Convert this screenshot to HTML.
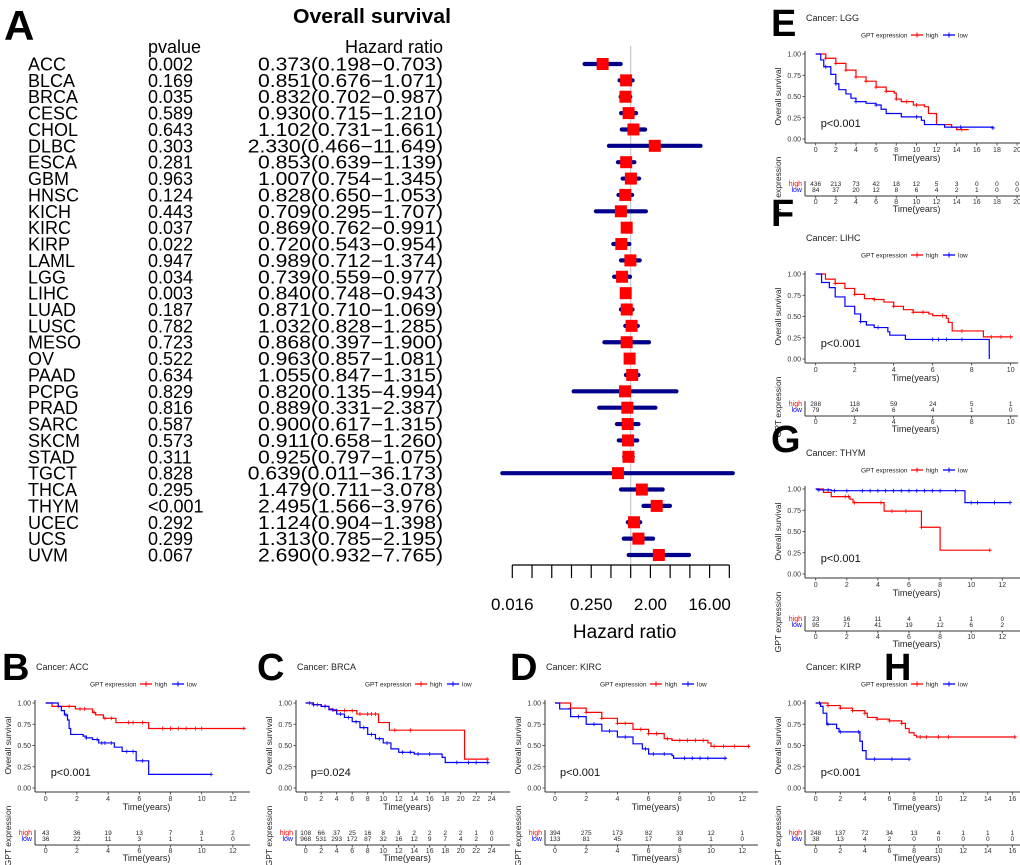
<!DOCTYPE html>
<html><head><meta charset="utf-8"><style>
html,body{margin:0;padding:0;background:#fff;}
svg{display:block;font-family:"Liberation Sans",Arial,sans-serif;}
</style></head><body>
<svg id="fig" width="1020" height="865" viewBox="0 0 1020 865" xmlns="http://www.w3.org/2000/svg">
<rect width="1020" height="865" fill="#fff"/>
<text x="4" y="40" font-size="42" font-weight="bold">A</text>
<text x="293" y="23" font-size="20" font-weight="bold" textLength="158" lengthAdjust="spacingAndGlyphs">Overall survival</text>
<text x="148" y="53" font-size="18">pvalue</text>
<text x="443" y="53" font-size="18" text-anchor="end">Hazard ratio</text>
<g id="forest"></g>
<g id="km"></g>
</svg>
<script>
// ---------- Forest plot data ----------
const fCancers=["ACC","BLCA","BRCA","CESC","CHOL","DLBC","ESCA","GBM","HNSC","KICH","KIRC","KIRP","LAML","LGG","LIHC","LUAD","LUSC","MESO","OV","PAAD","PCPG","PRAD","SARC","SKCM","STAD","TGCT","THCA","THYM","UCEC","UCS","UVM"];
const fPvalues=["0.002","0.169","0.035","0.589","0.643","0.303","0.281","0.963","0.124","0.443","0.037","0.022","0.947","0.034","0.003","0.187","0.782","0.723","0.522","0.634","0.829","0.816","0.587","0.573","0.311","0.828","0.295","<0.001","0.292","0.299","0.067"];
const fHR=[0.373,0.851,0.832,0.930,1.102,2.330,0.853,1.007,0.828,0.709,0.869,0.720,0.989,0.739,0.840,0.871,1.032,0.868,0.963,1.055,0.820,0.889,0.900,0.911,0.925,0.639,1.479,2.495,1.124,1.313,2.690];
const fLow=[0.198,0.676,0.702,0.715,0.731,0.466,0.639,0.754,0.650,0.295,0.762,0.543,0.712,0.559,0.748,0.710,0.828,0.397,0.857,0.847,0.135,0.331,0.617,0.658,0.797,0.011,0.711,1.566,0.904,0.785,0.932];
const fHigh=[0.703,1.071,0.987,1.210,1.661,11.649,1.139,1.345,1.053,1.707,0.991,0.954,1.374,0.977,0.943,1.069,1.285,1.900,1.081,1.315,4.994,2.387,1.315,1.260,1.075,36.173,3.078,3.976,1.398,2.195,7.765];
const fTickLabels=["0.016","0.250","2.00","16.00"];
const fTickLabelVals=[0.016,0.25,2,16];

const NS="http://www.w3.org/2000/svg";
function mk(tag,attrs,parent,txt){const e=document.createElementNS(NS,tag);for(const k in attrs)e.setAttribute(k,attrs[k]);if(txt!==undefined)e.textContent=txt;parent.appendChild(e);return e;}

(function(){
  const g=document.getElementById('forest');
  const n=fCancers.length;
  const rowY=i=>64+i*(555-64)/(n-1);
  const xs=v=>512.3+(Math.log2(v)+6)*19.73;
  const ref=mk('line',{x1:xs(1),x2:xs(1),y1:46,y2:565,stroke:'#c8c8c8','stroke-width':1.2},g);
  
  
  for(let i=0;i<n;i++){
    const y=rowY(i);
    const t1=mk('text',{x:28,y:y+6.5,'font-size':18},g,fCancers[i]);
    
    
    const t2=mk('text',{x:148,y:y+6.5,'font-size':18},g,fPvalues[i]);
    
    
    const s=fHR[i].toFixed(3)+"("+fLow[i].toFixed(3)+"\u2212"+fHigh[i].toFixed(3)+")";
    const len=s.length;
    const t3=mk('text',{x:443,y:y+6.5,'font-size':18,'text-anchor':'end',textLength:185*len/18,lengthAdjust:'spacingAndGlyphs'},g,s);
    
    
    const ci=mk('line',{x1:xs(fLow[i]),x2:xs(fHigh[i]),y1:y,y2:y,stroke:'#00008B','stroke-width':4.2,'stroke-linecap':'round'},g);
    
    
    const b=mk('rect',{x:xs(fHR[i])-6,y:y-6,width:12,height:12,fill:'#FF0000'},g);
    
    
  }
  const ax=mk('line',{x1:xs(Math.pow(2,-6)),x2:xs(Math.pow(2,5)),y1:565,y2:565,stroke:'#000','stroke-width':1.2},g);
  
  
  for(let k=-6;k<=5;k++){
    const tk=mk('line',{x1:xs(Math.pow(2,k)),x2:xs(Math.pow(2,k)),y1:565,y2:578,stroke:'#000','stroke-width':1.2},g);
    
    
  }
  for(let j=0;j<fTickLabels.length;j++){
    const v=Math.pow(2,Math.round(Math.log2(fTickLabelVals[j])));
    const tl=mk('text',{x:xs(v),y:610,'font-size':17,'text-anchor':'middle'},g,fTickLabels[j]);
    
    
  }
  const xt=mk('text',{x:xs(1)-6,y:638,'font-size':19,'text-anchor':'middle'},g,'Hazard ratio');
  
  
})();

// ---------- KM data ----------
const accHighT=[0,0.4,1.9,3.0,3.2,3.7,4.5,6.6,12.8];
const accHighS=[1,0.96,0.93,0.89,0.86,0.82,0.77,0.70,0.70];
const accLowT=[0,0.8,1.0,1.2,1.4,1.5,1.6,2.4,2.6,3.0,3.4,4.4,4.9,5.8,6.6,10.6];
const accLowS=[1,0.96,0.91,0.86,0.80,0.70,0.63,0.61,0.59,0.57,0.53,0.48,0.43,0.32,0.16,0.16];
const accHighCens=[0.8,1.5,2.2,2.5,3.1,3.8,4.2,5.3,5.6,6.2,7.5,8,8.5,9,9.6,10,12.7];
const accLowCens=[1.3,2.6,3.3,3.6,3.8,4.2,5.2,5.6,6.2,10.6];
const accRiskHigh=[43,36,19,13,7,3,2];
const accRiskLow=[36,22,11,3,1,1,0];

const brcaHighT=[0,1,2,3,3.5,6.6,9.4,10.8,20.5,23.6];
const brcaHighS=[1,0.98,0.96,0.93,0.91,0.87,0.77,0.68,0.34,0.34];
const brcaLowT=[0,1,2,3,4,5,6,7,8,9,10,11,12,14,17.6,18,23.6];
const brcaLowS=[1,0.98,0.96,0.92,0.87,0.83,0.78,0.71,0.63,0.58,0.53,0.46,0.42,0.40,0.36,0.30,0.30];
const brcaHighCens=[0.5,1.5,2.5,4,5,6,7,8,8.5,9,11.5,13.5,23.4];
const brcaLowCens=[1,2.5,3.5,4.5,5.5,6.5,7.5,8.5,9.5,10.5,12.5,13.5,14.5,16,19.5,21,22,23.5];
const brcaRiskHigh=[108,66,37,25,16,8,3,2,2,2,2,1,0];
const brcaRiskLow=[968,531,293,172,87,32,16,12,9,7,4,2,0];

const kircHighT=[0,1,2,3,4,5,6,7,7.5,9.8,10,12.5];
const kircHighS=[1,0.94,0.89,0.82,0.76,0.69,0.64,0.58,0.56,0.53,0.49,0.49];
const kircLowT=[0,0.3,1,2,3,4,5,5.6,6,7.5,7.6,11];
const kircLowS=[1,0.93,0.84,0.75,0.67,0.60,0.52,0.46,0.40,0.38,0.35,0.35];
const kircHighCens=[1,2,3,4,4.5,5.5,6,6.5,7.2,8,8.5,9,9.5,10.2,10.8,11.5,12.4];
const kircLowCens=[1.5,2.5,3.5,4.5,5.8,6.3,7,8.3,8.8,9.3,9.8,10.9];
const kircRiskHigh=[394,275,173,82,33,12,1];
const kircRiskLow=[133,81,45,17,8,1,0];

const lggHighT=[0,1,2,3,4,5,6,7,7.8,8,8.5,9.7,10.8,11.2,12,13.5,14,15.2];
const lggHighS=[1,0.95,0.89,0.81,0.73,0.68,0.61,0.56,0.54,0.47,0.44,0.40,0.38,0.30,0.17,0.14,0.11,0.11];
const lggLowT=[0,0.5,0.8,1.5,2,2.3,3,3.5,4,5,6,6.5,7,8.5,10.5,10.8,12.8,17.6];
const lggLowS=[1,0.93,0.85,0.76,0.65,0.58,0.53,0.48,0.44,0.42,0.40,0.35,0.30,0.26,0.22,0.17,0.14,0.13];
const lggHighCens=[1,2,3,4,5,6,7,8,9,10,14.5];
const lggLowCens=[1,2,4,6,10,14.4,17.6];
const lggRiskHigh=[436,213,73,42,18,12,5,3,0,0,0];
const lggRiskLow=[84,37,20,12,8,6,4,2,1,0,0];

const lihcHighT=[0,0.5,1,1.5,2,2.5,3,3.5,4,4.5,5,5.8,6,6.7,6.8,7,8.6,10.1];
const lihcHighS=[1,0.94,0.89,0.83,0.76,0.71,0.70,0.67,0.62,0.58,0.55,0.53,0.51,0.48,0.43,0.33,0.26,0.26];
const lihcLowT=[0,0.3,0.7,1,1.5,2,2.3,2.6,3,3.7,3.8,4.6,8.9,8.9];
const lihcLowS=[1,0.90,0.84,0.73,0.62,0.53,0.44,0.40,0.37,0.32,0.28,0.23,0,0];
const lihcHighCens=[1,2,3,4,5,5.5,6.5,7.5,9,9.5,10];
const lihcLowCens=[2.3,3.2,6,6.3,6.7,7.5];
const lihcRiskHigh=[288,118,59,24,5,1];
const lihcRiskLow=[79,24,6,4,1,0];

const thymHighT=[0,0.5,1.0,2.2,2.4,4.4,6.8,8.0,11.2];
const thymHighS=[1,0.96,0.91,0.88,0.84,0.74,0.55,0.28,0.28];
const thymLowT=[0,0.1,1,9.6,12.5];
const thymLowS=[1,0.99,0.98,0.84,0.84];
const thymHighCens=[1.9,2.1,2.5,4.2,4.9,5.8,6.8,11.2];
const thymLowCens=[0.2,0.8,1.2,2,3,3.5,4,4.5,5,5.5,6,6.5,7,7.5,8,9,10,10.4,11.5,12.5];
const thymRiskHigh=[23,16,11,4,1,1,0];
const thymRiskLow=[95,71,41,19,12,6,2];

const kirpHighT=[0,1,2,3,4,4.2,5,6,7,7.3,7.6,8,8.2,16.3];
const kirpHighS=[1,0.97,0.94,0.91,0.88,0.83,0.81,0.79,0.76,0.70,0.65,0.62,0.60,0.60];
const kirpLowT=[0,0.4,0.6,0.9,1.7,1.9,3.6,3.8,4.1,7.6];
const kirpLowS=[1,0.96,0.88,0.75,0.70,0.66,0.55,0.44,0.34,0.34];
const kirpHighCens=[1,2,3,4,5,6,7,8.5,9,10,10.8,16.2];
const kirpLowCens=[0.3,1,2,3.5,4.8,6.2,7.6];
const kirpRiskHigh=[248,137,72,34,13,4,1,1,1];
const kirpRiskLow=[38,13,4,2,0,0,0,0,0];

const panels=[
 {id:'b',letter:'B',lx:2,ly:680,name:'ACC',ax:35,x0:45.7,ppy:15.6,y1:703,xEnd:250,step:2,tmax:12,legX:90,p:'p<0.001',hT:accHighT,hS:accHighS,lT:accLowT,lS:accLowS,hC:accHighCens,lC:accLowCens,rH:accRiskHigh,rL:accRiskLow},
 {id:'c',letter:'C',lx:257,ly:680,name:'BRCA',ax:296,x0:305.7,ppy:7.75,y1:703,xEnd:510,step:2,tmax:24,legX:365,p:'p=0.024',hT:brcaHighT,hS:brcaHighS,lT:brcaLowT,lS:brcaLowS,hC:brcaHighCens,lC:brcaLowCens,rH:brcaRiskHigh,rL:brcaRiskLow},
 {id:'d',letter:'D',lx:510,ly:680,name:'KIRC',ax:545,x0:555,ppy:15.6,y1:703,xEnd:758,step:2,tmax:12,legX:600,p:'p<0.001',hT:kircHighT,hS:kircHighS,lT:kircLowT,lS:kircLowS,hC:kircHighCens,lC:kircLowCens,rH:kircRiskHigh,rL:kircRiskLow},
 {id:'e',letter:'E',lx:771,ly:36,name:'LGG',ax:805,x0:815.7,ppy:10.07,y1:54,xEnd:1020,step:2,tmax:20,legX:861,p:'p<0.001',hT:lggHighT,hS:lggHighS,lT:lggLowT,lS:lggLowS,hC:lggHighCens,lC:lggLowCens,rH:lggRiskHigh,rL:lggRiskLow},
 {id:'f',letter:'F',lx:771,ly:226,name:'LIHC',ax:805,x0:815.7,ppy:19.5,y1:274,xEnd:1018,step:2,tmax:10,legX:861,p:'p<0.001',hT:lihcHighT,hS:lihcHighS,lT:lihcLowT,lS:lihcLowS,hC:lihcHighCens,lC:lihcLowCens,rH:lihcRiskHigh,rL:lihcRiskLow},
 {id:'g',letter:'G',lx:771,ly:452,name:'THYM',ax:805,x0:815.7,ppy:15.55,y1:489,xEnd:1020,step:2,tmax:12,legX:861,p:'p<0.001',hT:thymHighT,hS:thymHighS,lT:thymLowT,lS:thymLowS,hC:thymHighCens,lC:thymLowCens,rH:thymRiskHigh,rL:thymRiskLow},
 {id:'h',letter:'H',lx:884,ly:680,name:'KIRP',ax:805,x0:815.7,ppy:12.29,y1:703,xEnd:1020,step:2,tmax:16,legX:861,p:'p<0.001',hT:kirpHighT,hS:kirpHighS,lT:kirpLowT,lS:kirpLowS,hC:kirpHighCens,lC:kirpLowCens,rH:kirpRiskHigh,rL:kirpRiskLow}
];

function survAt(T,S,t){let s=S[0];for(let i=0;i<T.length;i++){if(T[i]<=t)s=S[i];}return s;}

(function(){
 const root=document.getElementById('km');
 panels.forEach(P=>{
  const g=mk('g',{},root);
  
  
  const xs=t=>P.x0+t*P.ppy;
  const y0=P.y1+85;
  const ys=s=>P.y1+(1-s)*85;
  const L=mk('text',{x:P.lx,y:P.ly,'font-size':38,'font-weight':'bold'},g,P.letter);
  
  
  const ti=mk('text',{x:P.ax+1,y:P.y1-33,'font-size':9,fill:'#222'},g,'Cancer: '+P.name);
  
  
  const lg=mk('g',{},g);
  
  
  const ly=P.y1-19;
  mk('text',{x:P.legX,y:ly+2.3,'font-size':6.5,fill:'#222'},lg,'GPT expression');
  const lx1=P.legX+50;
  mk('line',{x1:lx1,x2:lx1+12,y1:ly,y2:ly,stroke:'#f00','stroke-width':1.3},lg);
  mk('path',{d:`M${lx1+6} ${ly-2.5}V${ly+2.5}`,stroke:'#f00','stroke-width':1},lg);
  const lh=mk('text',{x:lx1+15,y:ly+2.3,'font-size':6.5,fill:'#222'},lg,'high');
  
  
  const lx2=lx1+32;
  mk('line',{x1:lx2,x2:lx2+12,y1:ly,y2:ly,stroke:'#00f','stroke-width':1.3},lg);
  mk('path',{d:`M${lx2+6} ${ly-2.5}V${ly+2.5}`,stroke:'#00f','stroke-width':1},lg);
  const ll=mk('text',{x:lx2+15,y:ly+2.3,'font-size':6.5,fill:'#222'},lg,'low');
  
  
  const ya=mk('line',{x1:P.ax,x2:P.ax,y1:P.y1-3,y2:y0+4,stroke:'#333','stroke-width':1},g);
  
  
  const xa=mk('line',{x1:P.ax,x2:P.xEnd,y1:y0+4,y2:y0+4,stroke:'#333','stroke-width':1},g);
  
  
  ['0.00','0.25','0.50','0.75','1.00'].forEach((lab,k)=>{
    const y=ys(k*0.25);
    mk('line',{x1:P.ax-2.5,x2:P.ax,y1:y,y2:y,stroke:'#333','stroke-width':0.8},g);
    const t=mk('text',{x:P.ax-4,y:y+2.5,'font-size':7,'text-anchor':'end',fill:'#333'},g,lab);
    
    
  });
  for(let t=0;t<=P.tmax;t+=P.step){
    mk('line',{x1:xs(t),x2:xs(t),y1:y0+4,y2:y0+6.5,stroke:'#333','stroke-width':0.8},g);
    const tl=mk('text',{x:xs(t),y:y0+13,'font-size':7,'text-anchor':'middle',fill:'#333'},g,String(t));
    
    
  }
  const xt=mk('text',{x:(P.ax+P.xEnd)/2+4,y:y0+22,'font-size':9,'text-anchor':'middle',fill:'#222'},g,'Time(years)');
  
  
  const yt=mk('text',{x:0,y:0,'font-size':8.5,'text-anchor':'middle',fill:'#222',transform:`translate(${P.ax-24},${(P.y1+y0)/2}) rotate(-90)`},g,'Overall survival');
  
  
  const pv=mk('text',{x:xs(0)+5,y:y0-12,'font-size':11,fill:'#111'},g,P.p);
  
  
  [[P.hT,P.hS,P.hC,'#f00','high'],[P.lT,P.lS,P.lC,'#00f','low']].forEach(([T,S,C,col,nm])=>{
    let d=`M${xs(T[0])} ${ys(S[0])}`;
    for(let i=1;i<T.length;i++){d+=`H${xs(T[i])}V${ys(S[i])}`;}
    const c=mk('path',{d:d,fill:'none',stroke:col,'stroke-width':1.2},g);
    
    
    C.forEach(t=>{
      const x=xs(t),y=ys(survAt(T,S,t));
      const m=mk('path',{d:`M${x-2} ${y}H${x+2}M${x} ${y-2}V${y+2}`,stroke:col,'stroke-width':0.8},g);
      
      
    });
  });
  const rHy=y0+47, rLy=y0+53, rAx=y0+57;
  mk('line',{x1:P.ax,x2:P.ax,y1:rHy-5,y2:rAx,stroke:'#333','stroke-width':1},g);
  mk('line',{x1:P.ax,x2:P.xEnd,y1:rAx,y2:rAx,stroke:'#333','stroke-width':1},g);
  const hh=mk('text',{x:P.ax-3,y:rHy,'font-size':7,'text-anchor':'end',fill:'#f00'},g,'high');
  
  
  const lw=mk('text',{x:P.ax-3,y:rLy,'font-size':7,'text-anchor':'end',fill:'#00f'},g,'low');
  
  
  P.rH.forEach((v,i)=>{
    const t=mk('text',{x:xs(i*P.step),y:rHy,'font-size':6.5,'text-anchor':'middle',fill:'#222'},g,String(v));
    
    
  });
  P.rL.forEach((v,i)=>{
    const t=mk('text',{x:xs(i*P.step),y:rLy,'font-size':6.5,'text-anchor':'middle',fill:'#222'},g,String(v));
    
    
  });
  for(let t=0;t<=P.tmax;t+=P.step){
    mk('line',{x1:xs(t),x2:xs(t),y1:rAx,y2:rAx+2.5,stroke:'#333','stroke-width':0.8},g);
    mk('text',{x:xs(t),y:rAx+8,'font-size':7,'text-anchor':'middle',fill:'#333'},g,String(t));
  }
  const rt=mk('text',{x:(P.ax+P.xEnd)/2+4,y:rAx+16,'font-size':9,'text-anchor':'middle',fill:'#222'},g,'Time(years)');
  
  
  const ge=mk('text',{x:0,y:0,'font-size':8.5,'text-anchor':'middle',fill:'#222',transform:`translate(${P.ax-24},${y0+48}) rotate(-90)`},g,'GPT expression');
  
  
 });
})();
</script>
</body></html>
